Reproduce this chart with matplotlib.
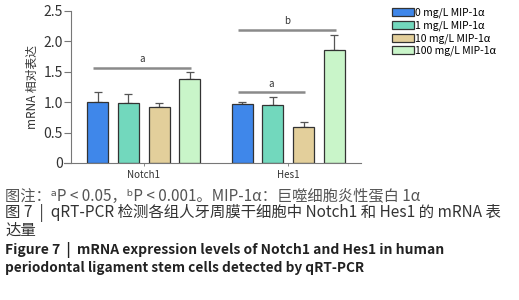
import matplotlib
matplotlib.use('Agg')
import matplotlib.pyplot as plt
import numpy as np

plt.rcParams['font.family'] = ['Noto Sans CJK SC', 'DejaVu Sans']

genes = ['Notch1', 'Hes1']
groups = ['0 mg/L MIP-1α', '1 mg/L MIP-1α', '10 mg/L MIP-1α', '100 mg/L MIP-1α']
means = [
    [1.01, 0.99, 0.92, 1.38],
    [0.965, 0.96, 0.60, 1.86],
]
errs = [
    [0.15, 0.15, 0.07, 0.11],
    [0.04, 0.13, 0.07, 0.25],
]
colors = ['#3f87ea', '#72d8bd', '#e3cf9b', '#c9f5c9']
# (gene index, first bar, last bar, height, label)
marks = [
    (0, 0, 3, 1.57, 'a'),
    (1, 0, 2, 1.16, 'a'),
    (1, 0, 3, 2.19, 'b'),
]
yticks = [0, 0.5, 1.0, 1.5, 2.0, 2.5]
yticklabels = ['0', '0.5', '1.0', '1.5', '2.0', '2.5']

caption = [
    ('图注：ᵃP < 0.05，ᵇP < 0.001。MIP-1α：巨噬细胞炎性蛋白 1α', 'normal', '#555555', 11),
    ('图 7  |  qRT-PCR 检测各组人牙周膜干细胞中 Notch1 和 Hes1 的 mRNA 表', 'normal', '#333333', 11.1),
    ('达量', 'normal', '#333333', 11.1),
    ('Figure 7  |  mRNA expression levels of Notch1 and Hes1 in human', 'bold', '#222222', 10),
    ('periodontal ligament stem cells detected by qRT-PCR', 'bold', '#222222', 9.8),
]

W, H = 519, 300
fig = plt.figure(figsize=(W / 100, H / 100), dpi=100)
ax = fig.add_axes([64 / W, 1 - 163 / H, 297 / W, 152 / H])

step = 0.2125
width = 0.145
offsets = (np.arange(4) - 1.5) * step

for gi, gene in enumerate(genes):
    for k in range(4):
        x = gi + offsets[k]
        ax.bar(x, means[gi][k], width=width, color=colors[k], edgecolor='#333333',
               linewidth=0.9, label=groups[k] if gi == 0 else None, zorder=2)
        ax.errorbar(x, means[gi][k], yerr=[[0], [errs[gi][k]]], fmt='none',
                    ecolor='#555555', elinewidth=0.9, capsize=3, capthick=0.9, zorder=1)

for gi, i, j, y, lab in marks:
    x0 = gi + offsets[i] - 0.03
    x1 = gi + offsets[j] + 0.01
    ax.plot([x0, x1], [y, y], color='#8a8a8a', lw=1.8, solid_capstyle='butt')
    ax.text((x0 + x1) / 2, y + 0.06, lab, ha='center', va='bottom', fontsize=7, color='#333333')

ax.set_xlim(-0.552, 1.503)
ax.set_ylim(0, 2.5)
ax.set_xticks([0, 1])
ax.set_xticklabels(genes, fontsize=7, color='#333333')
ax.tick_params(axis='x', length=2, width=0.6, colors='#777777', labelcolor='#333333', pad=3)
ax.set_yticks(yticks)
ax.set_yticklabels(yticklabels, fontsize=7, color='#333333')
ax.tick_params(axis='y', length=5, width=0.8, colors='#777777', labelcolor='#333333', pad=1)
ax.spines['top'].set_visible(False)
ax.spines['right'].set_visible(False)
ax.spines['left'].set_position(('axes', 7 / 297))
ax.spines['left'].set_color('#777777')
ax.spines['bottom'].set_color('#777777')
ax.set_ylabel('mRNA 相对表达', fontsize=8.5, color='#333333', labelpad=3)

fig.legend(loc='upper left', bbox_to_anchor=(392 / W, 1 - 8 / H), frameon=False, fontsize=7.5,
           handlelength=2.1, handleheight=0.8, handletextpad=0.15, labelspacing=0.2,
           borderaxespad=0, borderpad=0)

ys = [196, 213, 230, 250, 268]
for (txt, weight, col, fs), y in zip(caption, ys):
    fig.text(5 / W, 1 - y / H, txt, ha='left', va='center', fontsize=fs,
             fontweight=weight, color=col)

fig.savefig('out.png', dpi=100)
